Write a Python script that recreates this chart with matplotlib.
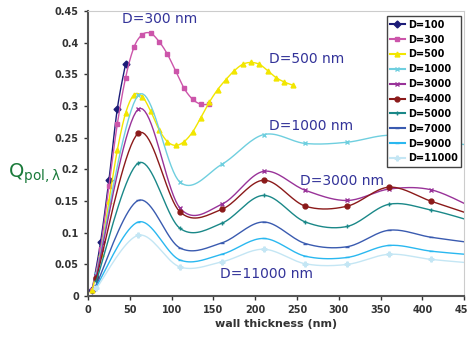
import numpy as np
from matplotlib import pyplot as plt
from matplotlib.ticker import FormatStrFormatter
from matplotlib.lines import Line2D

# data
x_fine = [5, 15, 25, 35, 45, 55, 65, 75, 85, 95, 105, 115, 125, 135, 145,
          155, 165, 175, 185, 195, 205, 215, 225, 235, 245]
x_coarse = [10, 60, 110, 160, 210, 260, 310, 360, 410, 460]

d100 = [0.01, 0.085, 0.183, 0.295, 0.367]
d300 = [0.01, 0.075, 0.174, 0.271, 0.345, 0.393, 0.413, 0.415, 0.402, 0.382,
        0.355, 0.328, 0.311, 0.303, 0.303]
d500 = [0.009, 0.066, 0.150, 0.230, 0.289, 0.318, 0.315, 0.292, 0.263, 0.244,
        0.238, 0.244, 0.259, 0.282, 0.306, 0.326, 0.342, 0.356, 0.366, 0.369,
        0.366, 0.356, 0.345, 0.338, 0.333]
d1000 = [0.035, 0.317, 0.180, 0.208, 0.255, 0.241, 0.243, 0.254, 0.245, 0.238]
d3000 = [0.032, 0.295, 0.139, 0.145, 0.197, 0.167, 0.151, 0.169, 0.168, 0.140]
d4000 = [0.028, 0.257, 0.133, 0.137, 0.183, 0.142, 0.142, 0.172, 0.150, 0.128]
d5000 = [0.024, 0.210, 0.107, 0.115, 0.159, 0.117, 0.110, 0.145, 0.136, 0.118]
d7000 = [0.018, 0.151, 0.076, 0.084, 0.117, 0.083, 0.078, 0.104, 0.093, 0.084]
d9000 = [0.015, 0.117, 0.057, 0.066, 0.091, 0.063, 0.061, 0.080, 0.071, 0.065]
d11000 = [0.012, 0.096, 0.046, 0.054, 0.074, 0.051, 0.050, 0.066, 0.058, 0.052]

series = [
    ('D=100', x_fine[:5], d100, '#1c1c78', 'D'),
    ('D=300', x_fine[:15], d300, '#cc55aa', 's'),
    ('D=500', x_fine, d500, '#f2e600', '^'),
    ('D=1000', x_coarse, d1000, '#6fcfdf', 'x'),
    ('D=3000', x_coarse, d3000, '#993399', 'x'),
    ('D=4000', x_coarse, d4000, '#8b1a1a', 'o'),
    ('D=5000', x_coarse, d5000, '#1a8888', '+'),
    ('D=7000', x_coarse, d7000, '#3a5bb0', '_'),
    ('D=9000', x_coarse, d9000, '#2ab8f0', '_'),
    ('D=11000', x_coarse, d11000, '#c4e6f4', 'P'),
]


def smooth(xs, ys, n=20):
    """Excel-style smoothed line (Catmull-Rom through the points)."""
    p = np.column_stack([xs, ys]).astype(float)
    p = np.vstack([p[0], p, p[-1]])
    out = []
    t = np.linspace(0, 1, n)[:, None]
    for i in range(1, len(p) - 2):
        p0, p1, p2, p3 = p[i - 1], p[i], p[i + 1], p[i + 2]
        c1 = p1 + (p2 - p0) / 6
        c2 = p2 - (p3 - p1) / 6
        seg = ((1 - t) ** 3) * p1 + 3 * ((1 - t) ** 2) * t * c1 \
            + 3 * (1 - t) * t ** 2 * c2 + t ** 3 * p2
        out.append(seg)
    out = np.vstack(out)
    return out[:, 0], out[:, 1]


fig = plt.figure(figsize=(4.68, 3.38), dpi=100)
ax = fig.add_axes([0.188, 0.124, 0.804, 0.843])

handles = []
for name, xs, ys, col, mk in series:
    sx, sy = smooth(xs, ys)
    ax.plot(sx, sy, color=col, lw=1.0)
    ax.plot(xs, ys, ls='none', marker=mk, color=col, ms=3.5, mew=1.0)
    handles.append(Line2D([], [], color=col, lw=1.5, marker=mk, ms=3.5,
                          label=name))

ax.set_xlim(0, 450)
ax.set_ylim(0, 0.45)
ax.set_xticks(np.arange(0, 451, 50))
ax.set_yticks(np.arange(0, 0.451, 0.05))
ax.yaxis.set_major_formatter(FormatStrFormatter('%g'))
ax.tick_params(labelsize=7, colors='#333333', length=3, width=1)
for lab in ax.get_xticklabels() + ax.get_yticklabels():
    lab.set_fontweight('bold')
for s in ['left', 'bottom']:
    ax.spines[s].set_color('#555555')
    ax.spines[s].set_linewidth(1.5)
for s in ['top', 'right']:
    ax.spines[s].set_color('#cccccc')
    ax.spines[s].set_linewidth(0.8)

ax.set_xlabel('wall thickness (nm)', fontsize=8, fontweight='bold',
              color='#333333', labelpad=3)

txt_col = '#333399'
ax.text(41, 0.437, 'D=300 nm', color=txt_col, fontsize=10, va='center')
ax.text(217, 0.375, 'D=500 nm', color=txt_col, fontsize=10, va='center')
ax.text(217, 0.268, 'D=1000 nm', color=txt_col, fontsize=10, va='center')
ax.text(254, 0.181, 'D=3000 nm', color=txt_col, fontsize=10, va='center')
ax.text(158, 0.035, 'D=11000 nm', color=txt_col, fontsize=10, va='center')

fig.text(0.018, 0.485, r'$\mathregular{Q_{pol,\lambda}}$', color='#1a7a3a',
         fontsize=14, va='center')

leg = ax.legend(handles=handles, loc='upper right',
                bbox_to_anchor=(0.992, 0.982), borderaxespad=0,
                prop={'size': 7, 'weight': 'bold'}, labelspacing=0.5,
                handlelength=1.5, handletextpad=0.35, fancybox=False,
                framealpha=1, borderpad=0.35)
leg.get_frame().set_edgecolor('#444444')
leg.get_frame().set_linewidth(1.0)

fig.savefig('out.png', dpi=100)
